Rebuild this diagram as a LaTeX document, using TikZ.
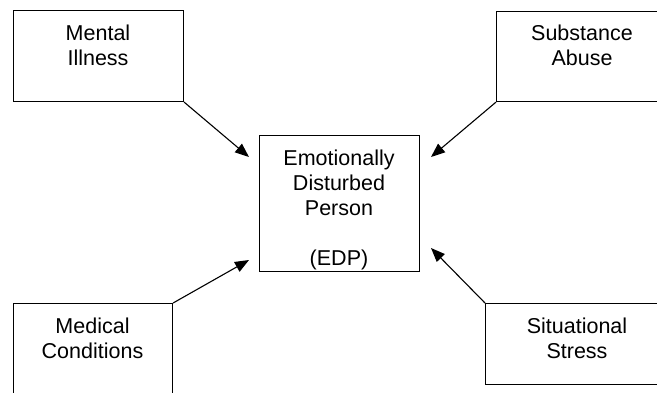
\documentclass[tikz,border=0pt]{standalone}
\usepackage{fontspec}
\setmainfont{Liberation Sans}
\usetikzlibrary{arrows.meta}
\tikzset{
  box/.style={draw=black, line width=1.1pt, inner sep=0pt, anchor=north west},
  lbl/.style={inner sep=0pt, anchor=base, font=\fontsize{21.5}{25}\selectfont},
  arr/.style={line width=1.1pt, -{Triangle[length=14pt,width=11pt]}}
}
\newcommand{\ml}[1]{\setlength{\tabcolsep}{0pt}\begin{tabular}[t]{c}#1\end{tabular}}
\begin{document}
\begin{tikzpicture}[x=1pt,y=-1pt]
\useasboundingbox (0,0) rectangle (657,392);
\clip (0,0) rectangle (657,392);
\node[box, minimum width=170pt, minimum height=91pt] (mi) at (13,10) {};
\node[box, minimum width=184pt, minimum height=90pt] (sa) at (496,11) {};
\node[box, minimum width=159pt, minimum height=117pt] (mc) at (13,303) {};
\node[box, minimum width=195pt, minimum height=81pt] (ss) at (485,303) {};
\node[box, minimum width=160pt, minimum height=136pt] (edp) at (259,135) {};
\node[lbl] (tmi) at (98,40) {\ml{Mental\\Illness}};
\node[lbl] (tsa) at (582,40) {\ml{Substance\\Abuse}};
\node[lbl] (tmc) at (92.5,333) {\ml{Medical\\Conditions}};
\node[lbl] (tss) at (577,333) {\ml{Situational\\Stress}};
\node[lbl] (tedp) at (339,165) {\ml{Emotionally\\Disturbed\\Person\\ \\(EDP)}};
\coordinate (t1) at (249,157);
\coordinate (t2) at (431,157);
\coordinate (t3) at (249,260);
\coordinate (t4) at (431,248);
\draw[arr] (mi.south east) -- (t1);
\draw[arr] (sa.south west) -- (t2);
\draw[arr] (mc.north east) -- (t3);
\draw[arr] (ss.north west) -- (t4);
\end{tikzpicture}
\end{document}
